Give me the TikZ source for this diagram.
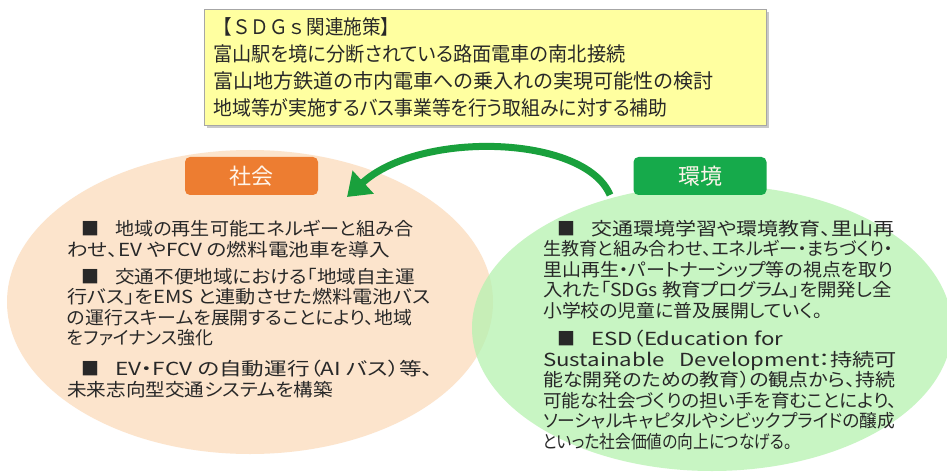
\documentclass[tikz,border=0pt]{standalone}
\usepackage{fontspec}
\setmainfont{Noto Sans CJK JP}[RawFeature=+palt]
\newfontfamily\nopalt{Noto Sans CJK JP}
\usetikzlibrary{shadows,arrows.meta,shapes.geometric}
\definecolor{peach}{RGB}{252,228,204}
\definecolor{lgreen}{RGB}{182,242,176}
\definecolor{ylw}{RGB}{255,255,160}
\definecolor{orangelbl}{RGB}{237,125,49}
\definecolor{greenlbl}{RGB}{22,170,75}
\definecolor{arrowgreen}{RGB}{25,160,60}
\definecolor{txt}{RGB}{40,40,40}
\newcommand{\fitline}[2]{\resizebox{#1pt}{\height}{#2}}
\newcommand{\blt}{\hspace*{14pt}\makebox[34pt][l]{■}}
\begin{document}
\begin{tikzpicture}[x=1pt,y=-1pt,
  blob/.style={ellipse,inner sep=0pt,draw=none},
  lbl/.style={rounded corners=5pt,minimum width=133pt,minimum height=38pt,inner sep=0pt,text={rgb,255:red,255;green,245;blue,235},font=\fontsize{22}{22}\selectfont},
  para/.style={anchor=north west,align=left,inner sep=0pt,text=txt,font=\fontsize{18}{20.5}\selectfont},
  ybox/.style={anchor=north west,fill=ylw,draw=gray!70,line width=0.8pt,
     drop shadow={shadow xshift=3pt,shadow yshift=-3pt,fill=black!35,opacity=0.6},
     text width=544pt,inner xsep=9pt,minimum height=116pt,align=left,text=txt,
     font=\fontsize{20}{27}\selectfont}
]
\useasboundingbox (0,0) rectangle (947,473);
\fill[white] (0,0) rectangle (947,473);

% header
\node[ybox] (hdr) at (204,9) {\fitline{186}{\nopalt 【ＳＤＧｓ関連施策】}\\\fitline{412}{富山駅を境に分断されている路面電車の南北接続}\\\fitline{500}{富山地方鉄道の市内電車への乗入れの実現可能性の検討}\\\fitline{454}{地域等が実施するバス事業等を行う取組みに対する補助}};

% ellipses
\node[blob,fill=peach,minimum width=486pt,minimum height=304pt] (soc) at (250,302) {};
\node[blob,fill=lgreen,fill opacity=0.75,minimum width=480pt,minimum height=286pt] (env) at (712,328) {};

% labels
\node[lbl,fill=orangelbl] (socL) at (251.5,176) {社会};
\node[lbl,fill=greenlbl] (envL) at (700,176) {環境};

% arrow
\coordinate (aS) at (610,195);
\coordinate (aE) at (347,197);
\draw[arrowgreen,line width=7pt,-{Triangle[width=30pt,length=22pt]}] (aS) .. controls (585,135) and (420,130) .. (aE);

% left text
\node[para] (s1) at (67,220) {\blt\fitline{298}{地域の再生可能エネルギーと組み合}\\\fitline{323}{わせ、EV やFCV の燃料電池車を導入}};
\node[para] (s2) at (67,268) {\blt\fitline{300}{交通不便地域における「地域自主運}\\\fitline{363}{行バス」をEMS と連動させた燃料電池バス}\\\fitline{345}{の運行スキームを展開することにより、地域}\\\fitline{146}{をファイナンス強化}};
\node[para] (s3) at (67,360) {\blt\fitline{318}{EV・FCV の自動運行（AI バス）等、}\\\fitline{266}{未来志向型交通システムを構築}};

% right text
\node[para] (e1) at (543,220) {\blt\fitline{303}{交通環境学習や環境教育、里山再}\\\fitline{350}{生教育と組み合わせ、エネルギー・まちづくり・}\\\fitline{350}{里山再生・パートナーシップ等の視点を取り}\\\fitline{349}{入れた「SDGs 教育プログラム」を開発し全}\\\fitline{279}{小学校の児童に普及展開していく。}};
\node[para] (e2) at (543,330) {\blt\fitline{192}{ESD（Education for}\\\fitline{354}{Sustainable\hspace*{12pt}Development：持続可}\\\fitline{352}{能な開発のための教育）の観点から、持続}\\\fitline{354}{可能な社会づくりの担い手を育むことにより、}\\\fitline{352}{ソーシャルキャピタルやシビックプライドの醸成}\\\fitline{249}{といった社会価値の向上につなげる。}};
\end{tikzpicture}
\end{document}
